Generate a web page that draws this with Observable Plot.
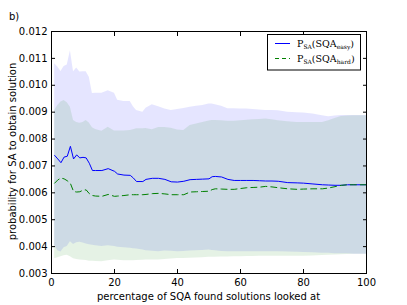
<!DOCTYPE html>
<html>
<head>
<meta charset="utf-8">
<script src="https://cdn.jsdelivr.net/npm/d3@7"></script>
<script src="https://cdn.jsdelivr.net/npm/@observablehq/plot@0.6"></script>
<style>
  html, body { margin: 0; padding: 0; background: white; }
</style>
</head>
<body>
<div id="chart"></div>
<script>
const pct = [1,2,3,4,5,6,7,8,9,10,11,12,13,14,16,18,20,21,23,25,26,27,29,30,32,34,36,38,40,42,44,46,48,50,51,52,54,56,58,60,62,64,66,68,70,72,75,78,80,83,86,88,90,92,94,96,98,100];

const easyHi = [0.0108,0.01068,0.01051,0.0107,0.01075,0.01128,0.0105,0.01064,0.01049,0.0105,0.0105,0.0103,0.00969,0.0097,0.0097,0.0098,0.0097,0.00944,0.0094,0.0094,0.0092,0.00906,0.009,0.00915,0.00928,0.0092,0.00912,0.00906,0.0091,0.00914,0.00918,0.00922,0.00925,0.0093,0.0093,0.00928,0.00922,0.00913,0.00913,0.00912,0.00912,0.0091,0.00908,0.00906,0.00906,0.00905,0.009,0.00898,0.00897,0.00893,0.00887,0.00883,0.00886,0.00888,0.00888,0.00888,0.00888,0.00888];

const hardHi = [0.00906,0.00925,0.00938,0.00943,0.00935,0.00918,0.00869,0.00862,0.00859,0.00862,0.00869,0.0086,0.00842,0.00836,0.00829,0.00844,0.0083,0.0083,0.0083,0.00832,0.00835,0.00838,0.00838,0.00839,0.00835,0.00843,0.00843,0.0084,0.00834,0.00832,0.0085,0.00856,0.00862,0.00867,0.00869,0.00869,0.00868,0.00866,0.00866,0.00868,0.0087,0.00872,0.00873,0.00875,0.00872,0.00868,0.00864,0.00862,0.00862,0.00862,0.00862,0.00868,0.00876,0.00884,0.00886,0.00887,0.00887,0.00887];

const easyMean = [0.00739,0.00726,0.00712,0.00733,0.00736,0.00773,0.00726,0.00741,0.0073,0.00732,0.0073,0.0071,0.00683,0.00683,0.00683,0.0069,0.0068,0.0067,0.00666,0.00665,0.00655,0.00642,0.00642,0.0065,0.00654,0.00654,0.0065,0.00641,0.0064,0.00643,0.00649,0.0065,0.00651,0.00652,0.0066,0.00661,0.00659,0.0065,0.00646,0.00646,0.00646,0.00646,0.00645,0.00644,0.00644,0.00643,0.00638,0.00637,0.00636,0.00633,0.0063,0.00629,0.00628,0.00628,0.0063,0.0063,0.0063,0.0063];

const hardMean = [0.00636,0.00648,0.00655,0.00652,0.00645,0.00635,0.00605,0.00603,0.00604,0.0061,0.00611,0.00597,0.0059,0.00588,0.00587,0.00594,0.00587,0.00588,0.0059,0.00593,0.00593,0.00593,0.00593,0.00594,0.00597,0.00598,0.00596,0.00593,0.00593,0.00593,0.00603,0.00604,0.00605,0.00606,0.00612,0.00615,0.00614,0.00613,0.00613,0.00616,0.00619,0.0062,0.00621,0.00624,0.00622,0.00619,0.00615,0.00613,0.00614,0.00615,0.00615,0.00618,0.00623,0.00628,0.0063,0.0063,0.0063,0.0063];

const easyLo = [0.00403,0.00385,0.0038,0.00396,0.004,0.00418,0.00408,0.00414,0.00416,0.00413,0.0041,0.00407,0.00405,0.00403,0.004,0.00403,0.004,0.00398,0.00396,0.00394,0.00392,0.00391,0.00387,0.00385,0.00383,0.00381,0.00384,0.00383,0.00381,0.00382,0.00384,0.00385,0.00386,0.00387,0.00386,0.00385,0.00382,0.00381,0.00381,0.00381,0.00381,0.00381,0.00381,0.00381,0.00381,0.00381,0.0038,0.00379,0.00378,0.00377,0.00375,0.00375,0.00373,0.00373,0.00373,0.00372,0.00372,0.00372];

const hardLo = [0.00355,0.00359,0.00362,0.00366,0.00368,0.00362,0.00355,0.00352,0.0035,0.00349,0.00348,0.00346,0.00346,0.00345,0.00344,0.00347,0.0035,0.00349,0.00347,0.00347,0.00347,0.00348,0.00349,0.0035,0.0035,0.0035,0.00352,0.00354,0.00356,0.00356,0.00357,0.00358,0.00359,0.0036,0.0036,0.0036,0.00361,0.00361,0.00362,0.00362,0.00363,0.00363,0.00364,0.00364,0.00364,0.00364,0.00364,0.00364,0.00364,0.00365,0.00367,0.00368,0.00369,0.0037,0.00371,0.00372,0.00372,0.00372];

const xTicks = [0, 20, 40, 60, 80, 100];
const yTicks = [0.003, 0.004, 0.005, 0.006, 0.007, 0.008, 0.009, 0.010, 0.011, 0.012];

const panelLabel = "b)";
const xLabel = "percentage of SQA found solutions looked at";
const yLabel = "probability for SA to obtain solution";
const legendNames = [["SA", "easy"], ["SA", "hard"]];

const rows = pct.map((p, i) => ({
  pct: p,
  easyHi: easyHi[i], easyLo: easyLo[i], easy: easyMean[i],
  hardHi: hardHi[i], hardLo: hardLo[i], hard: hardMean[i]
}));

const svg = Plot.plot({
  width: 407,
  height: 305,
  marginLeft: 51,
  marginRight: 41,
  marginTop: 31,
  marginBottom: 32,
  style: { fontFamily: "DejaVu Sans, sans-serif", fontSize: "10px", background: "white", color: "black" },
  x: { domain: [0, 100], label: null },
  y: { domain: [0.003, 0.012], label: null },
  marks: [
    Plot.areaY(rows, { x: "pct", y1: "easyLo", y2: "easyHi", fill: "blue", fillOpacity: 0.1 }),
    Plot.areaY(rows, { x: "pct", y1: "hardLo", y2: "hardHi", fill: "green", fillOpacity: 0.1 }),
    Plot.lineY(rows, { x: "pct", y: "easy", stroke: "blue", strokeWidth: 1 }),
    Plot.lineY(rows, { x: "pct", y: "hard", stroke: "green", strokeWidth: 1, strokeDasharray: "6,4" }),
    Plot.frame({ stroke: "black" }),
    Plot.axisY({ ticks: yTicks, tickFormat: d3.format(".3f"), tickSize: -4, tickPadding: 8, label: null }),
    Plot.axisY({ ticks: yTicks, anchor: "right", tickSize: -4, tickFormat: () => "", label: null }),
    Plot.axisX({ ticks: xTicks, tickSize: -4, tickPadding: 9, label: null }),
    Plot.axisX({ ticks: xTicks, anchor: "top", tickSize: -4, tickFormat: () => "", label: null })
  ]
});

document.getElementById("chart").appendChild(svg);

const root = d3.select(svg);
const font = "DejaVu Sans, sans-serif";

// Panel label and axis titles
root.append("text").attr("x", 9).attr("y", 20).attr("text-anchor", "start")
  .attr("font-family", font).attr("font-size", 10).attr("fill", "black").text(panelLabel);
root.append("text").attr("x", 208.5).attr("y", 300).attr("text-anchor", "middle")
  .attr("font-family", font).attr("font-size", 10).attr("fill", "black").text(xLabel);
root.append("text").attr("transform", "translate(16,151.5) rotate(-90)").attr("text-anchor", "middle")
  .attr("font-family", font).attr("font-size", 10).attr("fill", "black").text(yLabel);

// Legend
const g = root.append("g");
g.append("rect").attr("x", 267.5).attr("y", 34.5).attr("width", 93).attr("height", 35.5)
  .attr("fill", "white").attr("stroke", "black").attr("stroke-width", 1);
g.append("line").attr("x1", 275).attr("x2", 290).attr("y1", 43.5).attr("y2", 43.5)
  .attr("stroke", "blue").attr("stroke-width", 1);
g.append("line").attr("x1", 275).attr("x2", 290).attr("y1", 58.5).attr("y2", 58.5)
  .attr("stroke", "green").attr("stroke-width", 1).attr("stroke-dasharray", "4,3");

legendNames.forEach(([s1, s2], i) => {
  const y = 46.5 + i * 15;
  const t = g.append("text").attr("x", 297).attr("y", y).attr("text-anchor", "start")
    .attr("font-family", "DejaVu Serif, Liberation Serif, serif").attr("font-size", 9.5).attr("fill", "black");
  t.append("tspan").text("P");
  t.append("tspan").attr("dy", 2).attr("font-size", 6).text(s1);
  t.append("tspan").attr("dy", -2).text("(SQA");
  t.append("tspan").attr("dy", 2).attr("font-size", 6).text(s2);
  t.append("tspan").attr("dy", -2).text(")");
});
</script>
</body>
</html>
